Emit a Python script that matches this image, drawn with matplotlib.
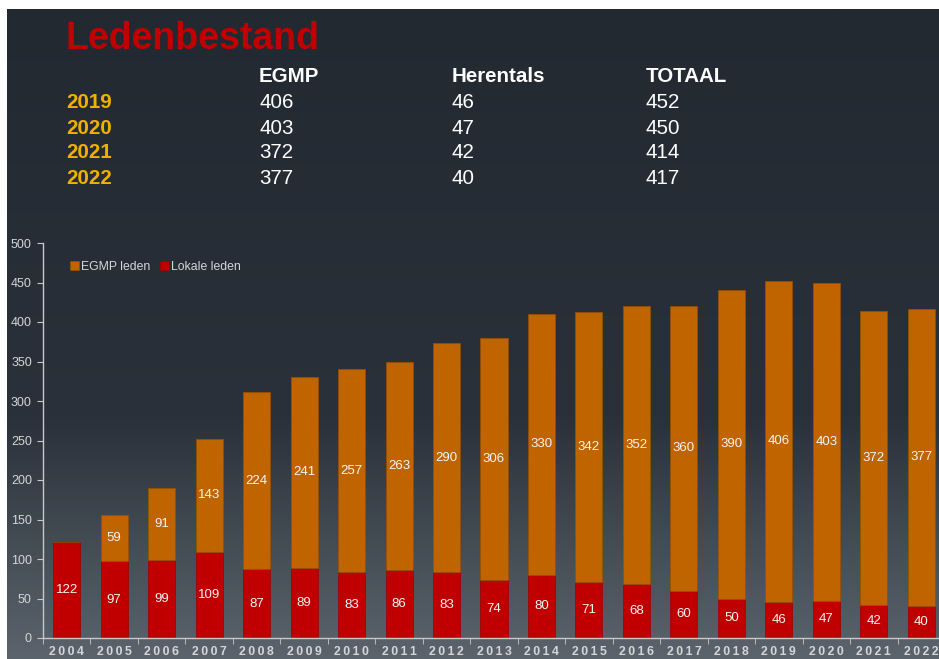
import numpy as np
import matplotlib
matplotlib.use("Agg")
import matplotlib.pyplot as plt
from matplotlib.colors import LinearSegmentedColormap

plt.rcParams['font.family'] = ['Liberation Sans', 'DejaVu Sans']

years = [2004, 2005, 2006, 2007, 2008, 2009, 2010, 2011, 2012, 2013,
         2014, 2015, 2016, 2017, 2018, 2019, 2020, 2021, 2022]
lokale = [122, 97, 99, 109, 87, 89, 83, 86, 83, 74, 80, 71, 68, 60, 50, 46, 47, 42, 40]
egmp = [0, 59, 91, 143, 224, 241, 257, 263, 290, 306, 330, 342, 352, 360, 390, 406, 403, 372, 377]

tabel_kop = ["EGMP", "Herentals", "TOTAAL"]
tabel_jaren = ["2019", "2020", "2021", "2022"]
tabel_egmp = [406, 403, 372, 377]
tabel_herentals = [46, 47, 42, 40]
tabel_totaal = [452, 450, 414, 417]

ORANJE = "#c06400"
ROOD = "#c00000"
GOUD = "#f0b000"
GRIJS = "#d4d6d8"

fig = plt.figure(figsize=(9.39, 6.59), dpi=100, facecolor="white")

# achtergrond met verloop
bg = fig.add_axes([7 / 939, 0, 1 - 7 / 939, 1 - 9 / 659])
bg.set_axis_off()
cmap = LinearSegmentedColormap.from_list(
    "verloop", [(0.0, "#222931"), (0.63, "#2a313a"), (1.0, "#5b646c")])
grad = np.linspace(0, 1, 256).reshape(-1, 1)
bg.imshow(grad, aspect="auto", cmap=cmap, extent=[0, 1, 0, 1])
bg.set_xlim(0, 1)
bg.set_ylim(0, 1)

# titel en tabel
fig.text(66 / 939, 1 - 39 / 659, "Ledenbestand", color=ROOD, fontsize=27,
         fontweight="bold", va="center", ha="left")
kol_x = [259, 452, 646]
rij_y = [103, 128, 153, 179]
for x, kop in zip(kol_x, tabel_kop):
    fig.text(x / 939, 1 - 77 / 659, kop, color="white", fontsize=14.8,
             fontweight="bold", va="center")
for i, jaar in enumerate(tabel_jaren):
    y = 1 - rij_y[i] / 659
    fig.text(66 / 939, y, jaar, color=GOUD, fontsize=14.8, fontweight="bold", va="center")
    for x, v in zip(kol_x, [tabel_egmp[i], tabel_herentals[i], tabel_totaal[i]]):
        fig.text(x / 939, y, str(v), color="white", fontsize=14.8, va="center")

# grafiek
ax = fig.add_axes([43 / 939, 1 - 638 / 659, 902 / 939, 395 / 659])
ax.set_facecolor("none")
x = np.arange(len(years))
b1 = ax.bar(x, lokale, width=0.57, color=ROOD, edgecolor="#a00000", linewidth=0.5,
            label="Lokale leden")
b2 = ax.bar(x, egmp, width=0.57, bottom=lokale, color=ORANJE, edgecolor="#9a5000",
            linewidth=0.5, label="EGMP leden")

for i in range(len(years)):
    ax.text(x[i], lokale[i] / 2, str(lokale[i]), color="#f4f4f4", fontsize=9.5,
            ha="center", va="center")
    if egmp[i] > 0:
        ax.text(x[i], lokale[i] + egmp[i] / 2, str(egmp[i]), color="#f4f4f4",
                fontsize=9.5, ha="center", va="center")

ax.set_xlim(-0.5, len(years) - 0.5)
ax.set_ylim(0, 500)
ax.set_yticks(range(0, 501, 50))
ax.set_xticks(x)
ax.set_xticklabels(["\u2009".join(str(j)) for j in years])
ax.set_xticks(np.arange(-0.5, len(years), 1), minor=True)
ax.tick_params(axis="x", which="major", length=0, pad=6, colors=GRIJS, labelsize=8.8)
ax.tick_params(axis="x", which="minor", length=4, color="#c8c8c8", direction="out")
ax.tick_params(axis="y", length=4, color="#c8c8c8", colors=GRIJS, labelsize=9, pad=4)
for lbl in ax.get_xticklabels():
    lbl.set_fontweight("bold")
for s in ["top", "right"]:
    ax.spines[s].set_visible(False)
for s in ["left", "bottom"]:
    ax.spines[s].set_color("#c8c8c8")
    ax.spines[s].set_linewidth(1)

leg = ax.legend(handles=[b2, b1], loc="center left", bbox_to_anchor=(0.018, 0.94),
                ncol=2, frameon=False, fontsize=8.8, handlelength=0.7, handleheight=0.7,
                handletextpad=0.2, columnspacing=0.8, labelcolor=GRIJS)

fig.savefig("out.png", dpi=100, facecolor="white")
